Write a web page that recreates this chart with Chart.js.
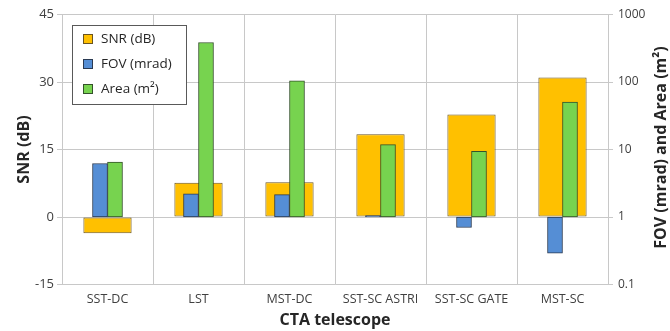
<!DOCTYPE html>
<html>
<head>
<meta charset="utf-8">
<script src="https://cdn.jsdelivr.net/npm/chart.js@4/dist/chart.umd.min.js"></script>
<style>
  html, body { margin: 0; padding: 0; background: #fff; }
  #wrap { width: 670px; height: 331px; position: relative; }
</style>
</head>
<body>
<div id="wrap"><canvas id="c" width="670" height="331"></canvas></div>
<script>
// Telescope types along the x axis
const categories = ['SST-DC', 'LST', 'MST-DC', 'SST-SC ASTRI', 'SST-SC GATE', 'MST-SC'];
// Signal-to-noise ratio, left axis (dB)
const snrDb = [-3.6, 7.6, 7.7, 18.4, 22.8, 31.0];
// Field of view (mrad), right log axis
const fovMrad = [6.2, 2.2, 2.15, 1.05, 0.70, 0.29];
// Mirror area (m²), right log axis
const areaM2 = [6.5, 385, 104, 11.8, 9.4, 50.6];
// Axis tick values
const snrTicks = [-15, 0, 15, 30, 45];
const logTicks = [0.1, 1, 10, 100, 1000];
// Bars on the log axis grow up or down from this value (lines up with 0 dB)
const logBase = 1;

const FONT = "'Open Sans', 'DejaVu Sans', sans-serif";
const GRID = '#c8c8c8';
const TICK_TXT = '#404040';
const TITLE_TXT = '#262626';

const colors = {
  snr:  { fill: '#FFC000', border: '#6a5420' },
  fov:  { fill: '#558ED5', border: '#2a3a52' },
  area: { fill: '#77D34F', border: '#34522a' }
};

const overlay = {
  id: 'overlay',
  afterDraw(chart) {
    const ctx = chart.ctx;
    const area = chart.chartArea;
    ctx.save();

    // legend box inside the plot
    const bx = 72.5, by = 25.5, bw = 114, bh = 79;
    ctx.fillStyle = '#fff';
    ctx.fillRect(bx, by, bw, bh);
    ctx.strokeStyle = '#595959';
    ctx.lineWidth = 1;
    ctx.strokeRect(bx, by, bw, bh);
    ctx.font = '13.5px ' + FONT;
    ctx.textBaseline = 'middle';
    ctx.textAlign = 'left';
    chart.data.datasets.forEach((ds, i) => {
      const cy = 39 + i * 25;
      ctx.fillStyle = ds.backgroundColor;
      ctx.fillRect(83.5, cy - 4.5, 9, 9);
      ctx.strokeStyle = ds.borderColor;
      ctx.strokeRect(83.5, cy - 4.5, 9, 9);
      ctx.fillStyle = TITLE_TXT;
      ctx.fillText(ds.label, 101, cy + 0.5);
    });

    // axis titles
    ctx.fillStyle = TITLE_TXT;
    ctx.font = 'bold 16px ' + FONT;
    ctx.textAlign = 'center';
    ctx.textBaseline = 'middle';
    const midY = (area.top + area.bottom) / 2;

    ctx.save();
    ctx.translate(24, midY);
    ctx.rotate(-Math.PI / 2);
    ctx.fillText('SNR (dB)', 0, 0);
    ctx.restore();

    ctx.save();
    ctx.translate(661, midY - 2);
    ctx.rotate(-Math.PI / 2);
    ctx.fillText('FOV (mrad) and Area (m²)', 0, 0);
    ctx.restore();

    ctx.fillText('CTA telescope', (area.left + area.right) / 2, 320);
    ctx.restore();
  }
};

new Chart(document.getElementById('c'), {
  type: 'bar',
  data: {
    labels: categories,
    datasets: [
      {
        label: 'SNR (dB)',
        data: snrDb,
        yAxisID: 'y',
        backgroundColor: colors.snr.fill,
        borderColor: colors.snr.border,
        borderWidth: 1,
        borderSkipped: false,
        grouped: false,
        categoryPercentage: 1,
        barPercentage: 0.53,
        order: 2
      },
      {
        label: 'FOV (mrad)',
        data: fovMrad.map(v => [logBase, v]),
        yAxisID: 'y1',
        stack: 'fov',
        backgroundColor: colors.fov.fill,
        borderColor: colors.fov.border,
        borderWidth: 1,
        borderSkipped: false,
        barThickness: 15,
        order: 1
      },
      {
        label: 'Area (m²)',
        data: areaM2.map(v => [logBase, v]),
        yAxisID: 'y1',
        stack: 'area',
        backgroundColor: colors.area.fill,
        borderColor: colors.area.border,
        borderWidth: 1,
        borderSkipped: false,
        barThickness: 15,
        order: 1
      }
    ]
  },
  options: {
    responsive: false,
    animation: false,
    devicePixelRatio: 1,
    layout: { padding: { top: 14.5, left: 0, right: 0, bottom: 0 } },
    plugins: {
      legend: { display: false },
      tooltip: { enabled: false }
    },
    scales: {
      x: {
        offset: true,
        grid: { offset: true, color: GRID, drawTicks: false },
        border: { color: GRID },
        ticks: { color: TICK_TXT, font: { family: FONT, size: 12.5 }, padding: 7, maxRotation: 0 },
        afterFit(scale) { scale.height = 46.5; }
      },
      y: {
        position: 'left',
        min: -15,
        max: 45,
        afterBuildTicks(scale) { scale.ticks = snrTicks.map(v => ({ value: v })); },
        grid: { color: GRID, tickLength: 5 },
        border: { color: GRID },
        ticks: { color: TICK_TXT, font: { family: FONT, size: 13 }, padding: 3 },
        afterFit(scale) { scale.width = 62; }
      },
      y1: {
        type: 'logarithmic',
        position: 'right',
        min: 0.1,
        max: 1000,
        afterBuildTicks(scale) { scale.ticks = logTicks.map(v => ({ value: v })); },
        grid: { drawOnChartArea: false, color: GRID, tickLength: 5 },
        border: { color: GRID },
        ticks: {
          color: TICK_TXT,
          font: { family: FONT, size: 12 },
          padding: 5,
          callback: v => String(v)
        },
        afterFit(scale) { scale.width = 62; }
      }
    }
  },
  plugins: [overlay]
});
</script>
</body>
</html>
